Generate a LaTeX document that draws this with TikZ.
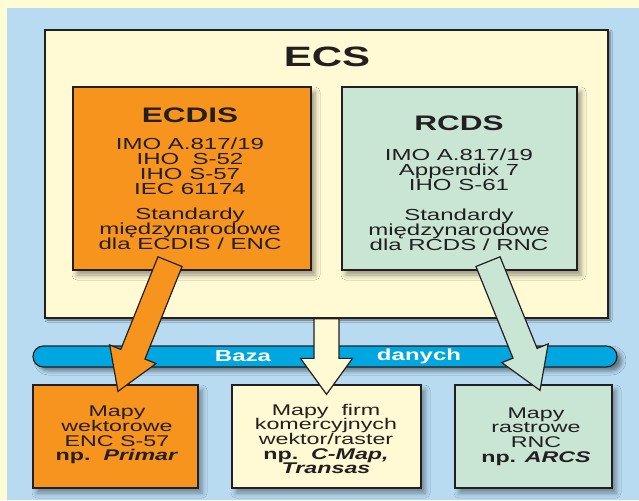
\documentclass[tikz,border=0pt]{standalone}
\usepackage{fontspec}
\setmainfont{Liberation Sans}[FakeStretch=1.5]
\usetikzlibrary{calc,shadows.blur}
\definecolor{bgyel}{HTML}{FFFBD5}
\definecolor{bgblue}{HTML}{B8DBF2}
\definecolor{ecsfill}{HTML}{FFFAD4}
\definecolor{orng}{HTML}{F7941D}
\definecolor{mint}{HTML}{C9E6D5}
\definecolor{barblue}{HTML}{00A6DF}
\definecolor{ink}{HTML}{231F20}
\newcommand\fatarr[7]{% name, style, start, end, shaft half width, head half width, head length
  \coordinate (#1H) at ($(#4)!#7!(#3)$);
  \draw[#2] ($(#3)!#5!90:(#4)$) -- ($(#1H)!#5!90:(#4)$) -- ($(#1H)!#6!90:(#4)$) -- (#4)
    -- ($(#1H)!#6!-90:(#4)$) -- ($(#1H)!#5!-90:(#4)$) -- ($(#3)!#5!-90:(#4)$) -- cycle;
}
\begin{document}
\begin{tikzpicture}[x=1pt,y=-1pt,
  box/.style={draw=ink, line width=1.3pt, inner sep=0pt,
    blur shadow={shadow xshift=4pt, shadow yshift=-5pt, shadow blur radius=5pt, shadow opacity=40}},
  txt/.style={text=ink, align=center, inner sep=0pt, font=\fontsize{16}{15}\selectfont},
  ttl/.style={text=ink, inner sep=0pt, font=\fontsize{21}{21}\selectfont\bfseries},
  stxt/.style={text=ink, align=center, inner sep=0pt, font=\fontsize{15.5}{14.6}\selectfont},
  fat/.style={draw=ink, line width=1.2pt, line join=miter},
  bartxt/.style={text=white, inner sep=0pt, font=\fontsize{16}{16}\selectfont\bfseries}]
\useasboundingbox (0,0) rectangle (639,500);
\fill[bgyel] (0,0) rectangle (639,500);
\fill[bgblue] (7,8) rectangle (639,500);

% ECS frame
\node[box, fill=ecsfill, line width=1.5pt, minimum width=563pt, minimum height=288pt,
  blur shadow={shadow xshift=2pt, shadow yshift=-2pt, shadow blur radius=2pt, shadow opacity=30}] (ecs) at (326.5,174) {};
\node[text=ink, inner sep=0pt, font=\fontsize{28}{28}\selectfont\bfseries] (ecst) at (327,57) {ECS};

% ECDIS
\node[box, fill=orng, minimum width=238pt, minimum height=183pt] (ecdis) at (192,178.5) {};
\node[ttl] (ecdist) at (190,115) {ECDIS};
\node[txt] (ecdisa) at (190,166.5) {IMO A.817/19\\IHO\ \ S-52\\IHO S-57\\IEC 61174};
\node[txt] (ecdisb) at (190,228.5) {Standardy\\międzynarodowe\\dla ECDIS / ENC};

% RCDS
\node[box, fill=mint, minimum width=235pt, minimum height=183pt] (rcds) at (459.5,178.5) {};
\node[ttl] (rcdst) at (459,123) {RCDS};
\node[txt] (rcdsa) at (459,170) {IMO A.817/19\\Appendix 7\\IHO S-61};
\node[txt] (rcdsb) at (459,229.5) {Standardy\\międzynarodowe\\dla RCDS / RNC};

% database bar
\node[draw=ink, line width=1.2pt, fill=barblue, rounded corners=10.5pt, inner sep=0pt,
  minimum width=584pt, minimum height=21pt,
  blur shadow={shadow xshift=5pt, shadow yshift=-4pt, shadow blur radius=4pt, shadow opacity=45}] (bar) at (325,356.5) {};
\node[bartxt] (baza) at (243,356.5) {Baza};
\node[bartxt] (danych) at (419,356.5) {danych};

% bottom boxes
\node[box, fill=orng, minimum width=165pt, minimum height=103pt] (mapv) at (115.5,436.5) {};
\node[stxt] (mapvt) at (117,435) {Mapy\\wektorowe\\ENC S-57\\\textbf{np.\ \ \textit{Primar}}};
\node[box, fill=ecsfill, minimum width=189pt, minimum height=103pt] (mapk) at (326.5,436.5) {};
\node[stxt] (mapkt) at (326,439) {Mapy\ \ firm\\komercyjnych\\wektor/raster\\\textbf{np.\ \ \textit{C-Map,}}\\\textbf{\textit{Transas}}};
\node[box, fill=mint, minimum width=157pt, minimum height=103pt] (mapr) at (533.5,436.5) {};
\node[stxt] (maprt) at (536,436.5) {Mapy\\rastrowe\\RNC\\\textbf{np. \textit{ARCS}}};

% arrows
\coordinate (ls) at ($(ecdis.south)+(-22,-9)$);
\coordinate (le) at ($(mapv.north)+(2.5,7)$);
\coordinate (ms) at (ecs.south);
\coordinate (me) at ($(mapk.north)+(0,10)$);
\coordinate (rs) at ($(rcds.south)+(28.5,-9)$);
\coordinate (re) at ($(mapr.north)+(6.5,6)$);
\fatarr{la}{fat, fill=orng}{ls}{le}{13pt}{25pt}{40pt}
\fatarr{ma}{fat, fill=ecsfill}{ms}{me}{12.5pt}{26pt}{36pt}
\fatarr{ra}{fat, fill=mint}{rs}{re}{13pt}{25pt}{40pt}
\end{tikzpicture}
\end{document}
